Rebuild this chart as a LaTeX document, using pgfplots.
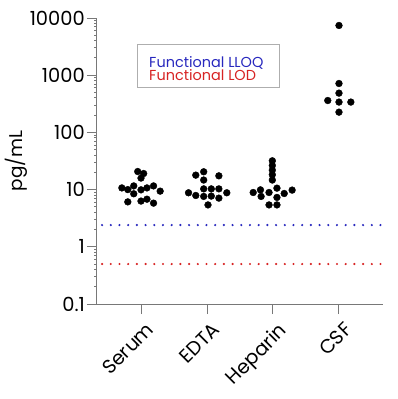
\documentclass[border=0pt]{standalone}
\usepackage{pgfplots}
\pgfplotsset{compat=1.18}
\usepackage{fontspec}
\setmainfont{Poppins}
\definecolor{axgray}{RGB}{120,120,120}
\definecolor{lloq}{RGB}{40,40,190}
\definecolor{lod}{RGB}{215,35,35}
\begin{document}
\begin{tikzpicture}
\useasboundingbox (-97bp,-95bp) rectangle (301bp,304bp);
\begin{axis}[
  at={(0,0)}, anchor=south west,
  scale only axis, width=286bp, height=286bp,
  ymode=log, ymin=0.1, ymax=10000,
  xmin=0.333, xmax=4.667,
  ytick={0.1,1,10,100,1000,10000},
  yticklabels={0.1,1,10,100,1000,10000},
  xtick={1,2,3,4},
  xticklabels={Serum,EDTA,Heparin,CSF},
  minor ytick={},
  axis x line*=bottom, axis y line*=left,
  axis line style={axgray, line width=1pt},
  tick style={axgray, line width=1pt},
  tick align=outside,
  major tick length=10bp,
  yticklabel style={font=\fontsize{19.5}{22}\selectfont, text=black, inner sep=1bp, xshift=-1bp},
  xticklabel style={font=\fontsize{19.5}{22}\selectfont, text=black, rotate=45, anchor=north east, inner sep=1bp, yshift=-7bp, xshift=-1bp},
  ylabel={pg/mL},
  ylabel style={font=\fontsize{18.5}{20}\selectfont, yshift=-2bp},
  clip=false,
  /pgf/number format/assume math mode=true,
]
\addplot[lloq, line width=2.4bp, line cap=round, dash pattern=on 0bp off 8.7bp] coordinates {(0.41,2.4) (4.667,2.4)};
\addplot[lod, line width=2.4bp, line cap=round, dash pattern=on 0bp off 8.7bp] coordinates {(0.41,0.5) (4.667,0.5)};
% Serum
\addplot[only marks, mark=*, mark size=3.4bp, black] coordinates {
(0.95,20.7) (1.04,19.1) (1.0,15.9)
(0.71,10.7) (0.80,10.0) (0.89,11.6) (1.0,9.9) (1.09,10.7) (1.19,11.6) (1.29,9.4)
(0.89,8.45)
(0.80,6.1) (1.0,6.3) (1.09,6.8) (1.19,5.8)
};
% EDTA
\addplot[only marks, mark=*, mark size=3.4bp, black] coordinates {
(1.83,17.9) (1.95,20.5) (2.18,17.4)
(1.95,14.7)
(1.95,10.3) (2.065,10.3) (2.18,10.3)
(1.72,8.8) (2.30,8.8)
(1.83,7.9) (1.95,7.6) (2.065,7.7) (2.18,7.1)
(2.015,5.4)
};
% Heparin
\addplot[only marks, mark=*, mark size=3.4bp, black] coordinates {
(2.99,31.9) (2.99,26.4) (2.99,21.9) (2.99,18.2) (2.99,14.7)
(3.06,10.6)
(2.70,8.9) (2.81,9.9) (2.94,8.9) (3.17,8.55) (3.29,9.8)
(2.82,7.6) (3.06,7.3)
(2.94,5.4) (3.06,5.4)
};
% CSF
\addplot[only marks, mark=*, mark size=3.4bp, black] coordinates {
(4.0,7400) (4.0,716) (4.0,486) (3.83,361) (4.0,339) (4.18,339) (4.0,226)
};
\node[draw=axgray!60, line width=0.8pt, anchor=north west,
  minimum width=142bp, minimum height=43bp, inner sep=0pt] (lgbox)
  at (rel axis cs:0.14,0.909) {};
\node[anchor=west, align=left, inner sep=0pt, font=\fontsize{14.5}{13.5}\selectfont]
  at ([xshift=12bp, yshift=-2.5bp]lgbox.west) {\textcolor{lloq}{Functional LLOQ}\\\textcolor{lod}{Functional LOD}};
\end{axis}
\end{tikzpicture}
\end{document}
